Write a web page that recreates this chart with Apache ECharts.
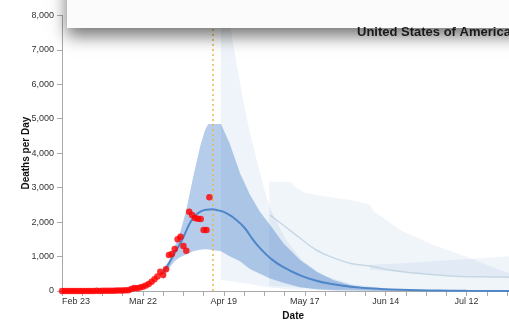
<!DOCTYPE html>
<html>
<head>
<meta charset="utf-8">
<script src="https://cdn.jsdelivr.net/npm/echarts@6/dist/echarts.min.js"></script>
<style>
  html, body { margin: 0; padding: 0; background: #fff; }
  #chart { width: 509px; height: 320px; }
</style>
</head>
<body>
<div id="chart"></div>
<script>
// Day 0 of the x axis is Feb 23, 2020; everything is keyed by day offset.
const startDate = Date.UTC(2020, 1, 23);
const monthNames = ['Jan','Feb','Mar','Apr','May','Jun','Jul','Aug','Sep','Oct','Nov','Dec'];

// Reported deaths per day, one value per day starting Feb 23.
const observedDeaths = [
  0, 0, 0, 0, 0, 0, 1, 0, 1, 2,
  3, 2, 4, 3, 5, 4, 6, 8, 7, 12,
  11, 14, 22, 24, 60, 90, 80, 100, 125, 160,
  200, 270, 340, 420, 555, 465, 630, 1045, 1075, 1220,
  1500, 1576, 1306, 1170, 2300, 2205, 2120, 2100, 2090, 1770,
  1770, 2720
];

// Projected mean deaths per day: [day, deaths]
const projectedMean = [
  [35, 560], [36, 660], [38, 950], [40, 1250], [42, 1560], [44, 1930],
  [46, 2180], [48, 2310], [50, 2360], [52, 2370], [54, 2340], [57, 2255],
  [60, 2080], [63, 1850], [66, 1500], [69, 1200], [72, 960], [76, 720],
  [82, 470], [88, 300], [94, 195], [100, 125], [110, 60], [120, 30],
  [130, 15], [140, 8], [160, 2]
];

// Current uncertainty interval: [day, lower, upper]
const currentBand = [
  [35, 330, 650], [36, 520, 760], [37.4, 700, 930], [39, 870, 1300], [40.8, 980, 1674],
  [43, 1060, 2350], [45.4, 1150, 3317], [47.8, 1200, 4190], [49.5, 1210, 4670],
  [50.6, 1205, 4846], [55, 1150, 4846], [58, 1010, 4286], [61.6, 860, 3415],
  [65, 640, 2800], [68.5, 500, 2300], [72, 360, 1915], [76.6, 240, 1384],
  [82.4, 110, 900], [88.1, 50, 560], [93.9, 22, 320], [99.7, 12, 174],
  [105.5, 6, 78], [111, 3, 29], [120, 1, 10], [140, 0, 2], [160, 0, 0]
];

// Earlier projection interval (tall spike starting mid April): [day, lower, upper]
const earlierBandA = [
  [55, 330, 9800], [57, 300, 8400], [59, 275, 7300], [61, 250, 6300], [63, 230, 5400],
  [65, 200, 4600], [67.5, 160, 3750], [70, 125, 2950], [72, 100, 2400], [77, 60, 1550],
  [83, 35, 900], [90, 15, 470], [100, 6, 200], [115, 2, 60], [130, 0, 15], [160, 0, 2]
];

// Earlier projection interval starting early May: [day, lower, upper]
const earlierBandB = [
  [71.7, 150, 3170], [79, 120, 3170], [81, 100, 3000], [84, 90, 2850], [92, 60, 2730],
  [100, 40, 2640], [106.5, 25, 2500], [108, 22, 2300], [110, 20, 2200], [117, 12, 1770],
  [128.5, 6, 1335], [140, 3, 995], [151.6, 1, 610], [160, 0, 380]
];

// Earlier projection mean starting early May: [day, deaths]
const earlierMeanB = [
  [72, 2200], [76.5, 1915], [82, 1560], [88, 1190], [94, 960], [100, 800],
  [106.6, 725], [114, 600], [122.7, 514], [134.3, 435], [145, 410], [154.7, 400], [160, 395]
];

// Earlier projection interval starting mid June: [day, lower, upper]
const earlierBandC = [
  [106.6, 620, 760], [120, 540, 820], [135, 450, 900], [150, 410, 980], [160, 400, 1040]
];

// Day the projection was issued (dotted marker)
const projectionDay = 52;

const yTicks = [0, 1000, 2000, 3000, 4000, 5000, 6000, 7000, 8000];

function dayLabel(d) {
  const dt = new Date(startDate + d * 86400000);
  return monthNames[dt.getUTCMonth()] + ' ' + dt.getUTCDate();
}

function bandSeries(band, color, z) {
  return {
    type: 'custom',
    silent: true,
    clip: true,
    z: z,
    data: band,
    encode: { x: 0, y: [1, 2] },
    renderItem: function (params, api) {
      if (params.dataIndex !== 0) return null;
      const top = band.map(function (p) { return api.coord([p[0], p[2]]); });
      const bottom = band.map(function (p) { return api.coord([p[0], p[1]]); }).reverse();
      return {
        type: 'polygon',
        shape: { points: top.concat(bottom) },
        style: { fill: color, stroke: null }
      };
    }
  };
}

const chart = echarts.init(document.getElementById('chart'), null, { renderer: 'canvas' });

const labelFont = '"Liberation Sans", Arial, Helvetica, sans-serif';

chart.setOption({
  animation: false,
  backgroundColor: '#ffffff',
  grid: {
    left: 62, right: -15.4, top: 15.3, bottom: 29,
    containLabel: false, outerBoundsMode: 'none'
  },
  xAxis: {
    type: 'value',
    min: 0, max: 160, interval: 7,
    name: 'Date',
    nameLocation: 'middle',
    nameGap: 20,
    nameMoveOverlap: false,
    nameTextStyle: { fontFamily: labelFont, fontWeight: 'bold', fontSize: 10, color: '#111' },
    axisLine: { show: true, lineStyle: { color: '#aaaaaa', width: 1 } },
    axisTick: { show: true, length: 5, lineStyle: { color: '#aaaaaa' } },
    axisLabel: {
      fontFamily: labelFont, fontSize: 9, color: '#333', margin: 6,
      alignMinLabel: 'left',
      formatter: function (v) { return v % 28 === 0 ? dayLabel(v) : ''; }
    },
    splitLine: { show: false }
  },
  yAxis: {
    type: 'value',
    min: yTicks[0], max: yTicks[yTicks.length - 1], interval: 1000,
    name: 'Deaths per Day',
    nameLocation: 'middle',
    nameGap: 31,
    nameMoveOverlap: false,
    nameTextStyle: { fontFamily: labelFont, fontWeight: 'bold', fontSize: 10, color: '#111' },
    axisLine: { show: true, lineStyle: { color: '#aaaaaa', width: 1 } },
    axisTick: { show: true, length: 5, lineStyle: { color: '#aaaaaa' } },
    axisLabel: {
      fontFamily: labelFont, fontSize: 9, color: '#333', margin: 8,
      formatter: function (v) { return v.toLocaleString('en-US'); }
    },
    splitLine: { show: false }
  },
  series: [
    bandSeries(earlierBandB, 'rgba(70,130,190,0.08)', 1),
    bandSeries(earlierBandC, 'rgba(70,130,190,0.08)', 1),
    bandSeries(earlierBandA, 'rgba(70,130,190,0.09)', 2),
    bandSeries(currentBand, 'rgba(60,120,200,0.38)', 3),
    {
      type: 'line',
      data: earlierMeanB,
      smooth: true,
      symbol: 'none',
      silent: true,
      z: 4,
      lineStyle: { color: 'rgba(185,205,222,0.75)', width: 1.5 }
    },
    {
      type: 'line',
      data: projectedMean,
      smooth: true,
      symbol: 'none',
      silent: true,
      z: 5,
      lineStyle: { color: '#4f86c8', width: 2 },
      markLine: {
        silent: true,
        symbol: 'none',
        label: { show: false },
        lineStyle: { color: '#e8b64a', width: 1.5, type: [2, 3] },
        data: [{ xAxis: projectionDay }]
      }
    },
    {
      type: 'scatter',
      data: observedDeaths.map(function (v, i) { return [i, v]; }),
      symbol: 'circle',
      symbolSize: 6.5,
      silent: true,
      z: 6,
      itemStyle: { color: '#ff0000' }
    }
  ],
  graphic: [
    {
      type: 'rect',
      z: 100,
      shape: { x: 67, y: -30, width: 480, height: 58 },
      style: {
        fill: '#fbfbfb',
        shadowBlur: 16,
        shadowOffsetY: 8,
        shadowColor: 'rgba(0,0,0,0.55)'
      }
    },
    {
      type: 'text',
      z: 101,
      x: 357,
      y: 32.5,
      style: {
        text: 'United States of America',
        font: 'bold 13px "Liberation Sans", Arial, sans-serif',
        fill: '#1a1a1a',
        verticalAlign: 'middle'
      }
    }
  ]
});
</script>
</body>
</html>
